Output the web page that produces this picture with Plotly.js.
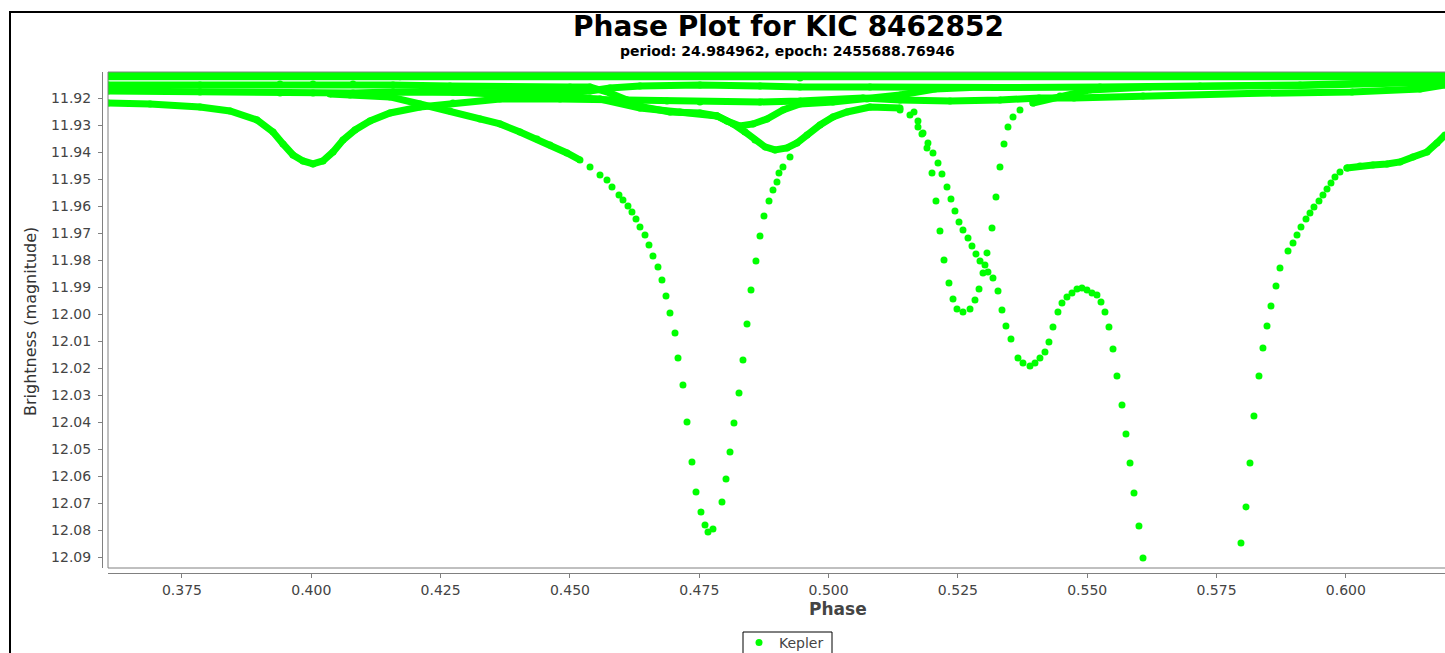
<!DOCTYPE html>
<html>
<head>
<meta charset="utf-8">
<script src="https://cdn.plot.ly/plotly-3.0.1.min.js"></script>
<style>
  html, body { margin: 0; padding: 0; background: #fff; overflow: hidden; }
  #chart { width: 1445px; height: 653px; }
  #frame { position: absolute; left: 9px; top: 11px; width: 3000px; height: 3000px;
           border-left: 2px solid #000; border-top: 2px solid #000; pointer-events: none; z-index: 10; }
</style>
</head>
<body>
<div id="frame"></div>
<div id="chart"></div>
<script>
// ---------------- data (phase, magnitude) ----------------
// Top dense bands
const bandAX = [0.36070, 0.43648, 0.51381, 0.61916];
const bandAY = [11.9113, 11.9113, 11.9113, 11.9113];
const bandBX = [0.36070, 0.41715, 0.49447, 0.61916];
const bandBY = [11.9120, 11.9120, 11.9124, 11.9120];

// Track C (upper left band, dips into the deeper U near 0.49)
const trackCX = [0.36070, 0.37848, 0.39395, 0.40033, 0.40806, 0.41580, 0.42681, 0.43648, 0.45001, 0.45387,
                 0.45774, 0.46103, 0.46412, 0.46934, 0.47514, 0.47843, 0.48152, 0.48384, 0.48577, 0.48771,
                 0.48964, 0.49196, 0.49389, 0.49582, 0.49834, 0.50085, 0.50356, 0.50801, 0.51381];
const trackCY = [11.91500, 11.91500, 11.91463, 11.91463, 11.91463, 11.91500, 11.91537, 11.91574, 11.91574, 11.91574,
                 11.91796, 11.92056, 11.92315, 11.92500, 11.92537, 11.92648, 11.92944, 11.93241, 11.93537, 11.93796,
                 11.93907, 11.93833, 11.93648, 11.93352, 11.92981, 11.92685, 11.92500, 11.92315, 11.92352];

// Track E (lower left band, rises near 0.457 and runs along the top on the right)
const trackEX = [0.36070, 0.37848, 0.39395, 0.40033, 0.40806, 0.41580, 0.42739, 0.43648, 0.44808, 0.45387,
                 0.45774, 0.46354, 0.47514, 0.48674, 0.49447, 0.50801, 0.52057, 0.53313, 0.55246, 0.57179,
                 0.59113, 0.61916];
const trackEY = [11.91722, 11.91759, 11.91796, 11.91796, 11.91796, 11.91759, 11.91759, 11.91759, 11.91796, 11.91722,
                 11.91611, 11.91537, 11.91500, 11.91537, 11.91574, 11.91574, 11.91593, 11.91593, 11.91574, 11.91537,
                 11.91500, 11.91352];

// Track M (shallow U near 0.483)
const trackMX = [0.42739, 0.43648, 0.44808, 0.45581, 0.46354, 0.47127, 0.47843, 0.48036, 0.48287, 0.48539,
                 0.48809, 0.49119, 0.49447, 0.50085, 0.50743, 0.51381, 0.52057, 0.52733];
const trackMY = [11.91759, 11.91833, 11.91907, 11.92019, 11.92352, 11.92500, 11.92648, 11.92833, 11.93019, 11.92944,
                 11.92759, 11.92426, 11.92204, 11.92130, 11.92019, 11.91870, 11.91648, 11.91593];

// Track P (dip near 0.400, then the 11.92 line to the right edge)
const trackPX = [0.36070, 0.36882, 0.37848, 0.38428, 0.38950, 0.39260, 0.39453, 0.39646, 0.39840, 0.40033,
                 0.40226, 0.40420, 0.40613, 0.40845, 0.41135, 0.41522, 0.42101, 0.42739, 0.43648, 0.44808,
                 0.45967, 0.46876, 0.47514, 0.48674, 0.49447, 0.50665, 0.51381, 0.52347, 0.53313, 0.54067,
                 0.54744, 0.56078, 0.58107, 0.60118, 0.61433, 0.61916];
const trackPY = [11.92167, 11.92204, 11.92315, 11.92463, 11.92796, 11.93241, 11.93685, 11.94093, 11.94315, 11.94426,
                 11.94315, 11.93981, 11.93537, 11.93167, 11.92833, 11.92537, 11.92315, 11.92167, 11.92019, 11.92019,
                 11.92056, 11.92093, 11.92130, 11.92130, 11.92093, 11.91981, 11.92056, 11.92093, 11.92056, 11.91981,
                 11.91981, 11.91907, 11.91815, 11.91759, 11.91648, 11.91500];

// Track R (recovery of the 0.525 dip, joining the top on the right)
const trackRX = [0.53951, 0.54473, 0.55053, 0.56213, 0.57179, 0.59113, 0.61916];
const trackRY = [11.92167, 11.91907, 11.91685, 11.91574, 11.91556, 11.91519, 11.91389];

// Deep dip near 0.476: dense ingress
const ingressX = [0.40361, 0.40748, 0.41522, 0.42101, 0.42681, 0.43261, 0.43648, 0.44034, 0.44363, 0.44614, 0.44943, 0.45194];
const ingressY = [11.91833, 11.91870, 11.91944, 11.92204, 11.92463, 11.92759, 11.92944, 11.93241, 11.93500, 11.93722, 11.94019, 11.94278];

// Deep dip near 0.476: individual points
const deepDipX = [0.45388, 0.45581, 0.45716, 0.45813, 0.45948, 0.46025, 0.46122, 0.46199, 0.46277, 0.46354,
                  0.46451, 0.46528, 0.46605, 0.46702, 0.46779, 0.46857, 0.46934, 0.47031, 0.47089, 0.47185,
                  0.47263, 0.47359, 0.47437, 0.47533, 0.47611, 0.47669, 0.47765, 0.47939, 0.48017, 0.48094,
                  0.48171, 0.48268, 0.48345, 0.48423, 0.48500, 0.48596, 0.48674, 0.48751, 0.48848, 0.48925,
                  0.49002, 0.49041, 0.49118, 0.49254];
const deepDipY = [11.94537, 11.94833, 11.95019, 11.95278, 11.95574, 11.95759, 11.95981, 11.96204, 11.96463, 11.96759,
                  11.97056, 11.97426, 11.97833, 11.98241, 11.98722, 11.99315, 11.99944, 12.00685, 12.01611, 12.02611,
                  12.03981, 12.05463, 12.06574, 12.07315, 12.07796, 12.08056, 12.07944, 12.06944, 12.06093, 12.05093,
                  12.04019, 12.02907, 12.01685, 12.00352, 11.99093, 11.98019, 11.97093, 11.96352, 11.95796, 11.95389,
                  11.95093, 11.94759, 11.94537, 11.94167];

// Narrow dip near 0.526
const dipBX = [0.51651, 0.51728, 0.51805, 0.51902, 0.51999, 0.52076, 0.52153, 0.52231, 0.52327, 0.52405,
               0.52482, 0.52598, 0.52734, 0.52830, 0.52908, 0.52985, 0.53062, 0.53159, 0.53236, 0.53313,
               0.53391, 0.53468, 0.53565, 0.53700, 0.53951];
const dipBY = [11.92500, 11.92833, 11.93315, 11.93833, 11.94759, 11.95796, 11.96907, 11.97981, 11.98833, 11.99426,
               11.99796, 11.99907, 11.99796, 11.99463, 11.99056, 11.98463, 11.97722, 11.96796, 11.95648, 11.94537,
               11.93685, 11.93056, 11.92685, 11.92426, 11.92167];

// Long complex dip 0.514 - 0.561
const dipCX = [0.51381, 0.51573, 0.51728, 0.51825, 0.51921, 0.52018, 0.52115, 0.52192, 0.52289, 0.52366,
               0.52443, 0.52521, 0.52598, 0.52695, 0.52772, 0.52849, 0.52927, 0.53023, 0.53081, 0.53178,
               0.53275, 0.53352, 0.53429, 0.53526, 0.53661, 0.53758, 0.53893, 0.53990, 0.54086, 0.54183,
               0.54260, 0.54338, 0.54434, 0.54512, 0.54608, 0.54705, 0.54802, 0.54898, 0.54995, 0.55092,
               0.55188, 0.55266, 0.55343, 0.55420, 0.55498, 0.55575, 0.55672, 0.55749, 0.55827, 0.55904,
               0.56000, 0.56078];
const dipCY = [11.92426, 11.92611, 11.93056, 11.93278, 11.93648, 11.94019, 11.94389, 11.94796, 11.95278, 11.95722,
               11.96167, 11.96574, 11.96870, 11.97167, 11.97463, 11.97759, 11.98019, 11.98167, 11.98426, 11.98648,
               11.99130, 11.99833, 12.00426, 12.00907, 12.01611, 12.01796, 12.01907, 12.01796, 12.01611, 12.01389,
               12.01019, 12.00463, 11.99907, 11.99574, 11.99352, 11.99204, 11.99056, 11.99019, 11.99093, 11.99204,
               11.99278, 11.99537, 11.99907, 12.00463, 12.01278, 12.02278, 12.03352, 12.04426, 12.05500, 12.06611,
               12.07833, 12.09019];

// Egress of the dip near 0.58: individual points
const egressX = [0.57972, 0.58069, 0.58146, 0.58223, 0.58320, 0.58397, 0.58475, 0.58552, 0.58649, 0.58726,
                 0.58881, 0.58978, 0.59055, 0.59132, 0.59229, 0.59306, 0.59383, 0.59480, 0.59557, 0.59635,
                 0.59712, 0.59789, 0.59886, 0.60021];
const egressY = [12.08463, 12.07130, 12.05500, 12.03759, 12.02278, 12.01241, 12.00426, 11.99685, 11.98944, 11.98278,
                 11.97648, 11.97352, 11.97056, 11.96759, 11.96463, 11.96241, 11.96019, 11.95796, 11.95574, 11.95352,
                 11.95130, 11.94907, 11.94722, 11.94574];
// Egress plateau (dense)
const plateauX = [0.60021, 0.60272, 0.60524, 0.60794, 0.61046, 0.61297, 0.61568, 0.61761, 0.61916];
const plateauY = [11.94574, 11.94500, 11.94463, 11.94426, 11.94352, 11.94167, 11.93981, 11.93648, 11.93352];

// Axis ticks
const xTicks = [0.375, 0.400, 0.425, 0.450, 0.475, 0.500, 0.525, 0.550, 0.575, 0.600];
const yTicks = [11.92, 11.93, 11.94, 11.95, 11.96, 11.97, 11.98, 11.99, 12.00, 12.01, 12.02, 12.03, 12.04,
                12.05, 12.06, 12.07, 12.08, 12.09];

// ---------------- chart ----------------
const GREEN = '#00ff00';
const FONT = 'DejaVu Sans, Verdana, sans-serif';

function dense(x, y) {
  return { type: 'scatter', mode: 'lines+markers', x: x, y: y,
           line: { color: GREEN, width: 7 }, marker: { color: GREEN, size: 7 },
           showlegend: false, hoverinfo: 'skip' };
}
function dots(x, y, name, show) {
  return { type: 'scatter', mode: 'markers', x: x, y: y, name: name,
           marker: { color: GREEN, size: 7 }, showlegend: show, hoverinfo: 'skip' };
}

const traces = [
  dense(bandAX, bandAY), dense(bandBX, bandBY),
  dense(trackCX, trackCY), dense(trackEX, trackEY), dense(trackMX, trackMY),
  dense(trackPX, trackPY), dense(trackRX, trackRY), dense(ingressX, ingressY),
  dense(plateauX, plateauY),
  dots(deepDipX, deepDipY, 'Kepler', false),
  dots(dipBX, dipBY, 'Kepler', false),
  dots(egressX, egressY, 'Kepler', false),
  dots(dipCX, dipCY, 'Kepler', true)
];

// pixel layout helpers (figure 1445 x 653, margins l=100 r=0 t=72 b=75)
const ML = 100, MT = 72, MB = 75, W = 1445, H = 653;
const PW = W - ML, PH = H - MT - MB;
const px = v => (v - ML) / PW;
const py = v => (H - MB - v) / PH;

const layout = {
  width: W, height: H,
  margin: { l: ML, r: 0, t: MT, b: MB, autoexpand: false },
  paper_bgcolor: '#fff', plot_bgcolor: '#fff',
  showlegend: true,
  xaxis: {
    domain: [px(108), 1], range: [0.36070, 0.61916],
    anchor: 'free', position: py(573),
    tickvals: xTicks, ticktext: xTicks.map(v => v.toFixed(3)),
    showgrid: false, zeroline: false,
    showline: true, linecolor: '#808080', linewidth: 1,
    ticks: 'outside', ticklen: 4, tickcolor: '#808080',
    tickfont: { family: FONT, size: 14, color: '#444' }
  },
  yaxis: {
    domain: [py(568), 1], range: [12.0939, 11.9102],
    anchor: 'free', position: px(102),
    tickvals: yTicks, ticktext: yTicks.map(v => v.toFixed(2)),
    showgrid: false, zeroline: false,
    showline: true, linecolor: '#808080', linewidth: 1,
    ticks: 'outside', ticklen: 4, tickcolor: '#808080',
    ticklabelstandoff: 4,
    tickfont: { family: FONT, size: 14, color: '#444' }
  },
  shapes: [
    { type: 'rect', xref: 'paper', yref: 'paper', x0: px(108), x1: 1.01, y0: py(568), y1: 1,
      line: { color: '#808080', width: 1 }, layer: 'above' },
    { type: 'rect', xref: 'paper', yref: 'paper', x0: px(743), x1: px(832), y0: py(700), y1: py(632),
      line: { color: '#000', width: 1 }, fillcolor: 'rgba(0,0,0,0)', layer: 'above' }
  ],
  annotations: [
    { text: '<b>Phase Plot for KIC 8462852</b>', xref: 'paper', yref: 'paper',
      x: px(788), y: py(26), xanchor: 'center', yanchor: 'middle', showarrow: false,
      font: { family: FONT, size: 28, color: '#000' } },
    { text: '<b>period: 24.984962, epoch: 2455688.76946</b>', xref: 'paper', yref: 'paper',
      x: px(787), y: py(51.5), xanchor: 'center', yanchor: 'middle', showarrow: false,
      font: { family: FONT, size: 14, color: '#000' } },
    { text: 'Brightness (magnitude)', xref: 'paper', yref: 'paper', textangle: -90,
      x: px(30), y: py(322), xanchor: 'center', yanchor: 'middle', showarrow: false,
      font: { family: FONT, size: 16, color: '#333' } },
    { text: '<b>Phase</b>', xref: 'paper', yref: 'paper',
      x: px(838), y: py(609), xanchor: 'center', yanchor: 'middle', showarrow: false,
      font: { family: FONT, size: 17, color: '#444' } }
  ],
  legend: {
    x: px(739), y: py(627), xanchor: 'left', yanchor: 'top',
    borderwidth: 0, bgcolor: 'rgba(0,0,0,0)',
    font: { family: FONT, size: 14, color: '#444' }, itemwidth: 30
  }
};

Plotly.newPlot('chart', traces, layout, { staticPlot: true, displayModeBar: false });
</script>
</body>
</html>
